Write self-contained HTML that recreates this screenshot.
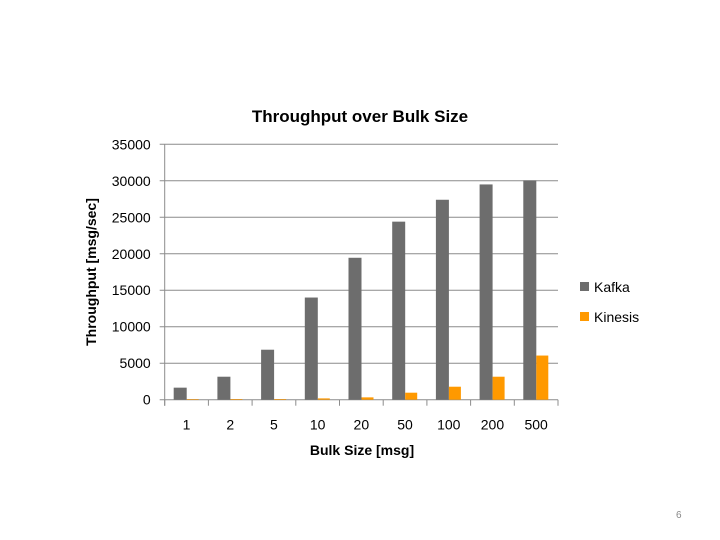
<!DOCTYPE html>
<html><head><meta charset="utf-8"><style>
body{margin:0;background:#fff;}
svg{display:block;font-family:"Liberation Sans",sans-serif;}
</style></head><body>
<svg id="c" width="720" height="540">
<text x="360" y="122" text-anchor="middle" font-size="17" font-weight="bold" fill="#000">Throughput over Bulk Size</text>
<text x="362" y="455" text-anchor="middle" font-size="14" font-weight="bold">Bulk Size [msg]</text>
<text transform="translate(96,272) rotate(-90)" text-anchor="middle" font-size="14" font-weight="bold">Throughput [msg/sec]</text>
<g id="grid"></g><g id="bars"></g><g id="ticks"></g>
<g>
<rect x="580" y="282" width="9" height="9" fill="#6d6d6d"/>
<text x="594" y="292" font-size="14">Kafka</text>
<rect x="580" y="312" width="9" height="9" fill="#ff9900"/>
<text x="594" y="322" font-size="14">Kinesis</text>
</g>
<text x="676" y="518" font-size="10" fill="#888">6</text>
</svg>
<script>
const categories=["1","2","5","10","20","50","100","200","500"];
const kafka=[1650,3150,6850,14000,19450,24400,27400,29500,30050];
const kinesis=[80,90,90,180,320,960,1780,3150,6050];
const yTicks=[0,5000,10000,15000,20000,25000,30000,35000];
const NS="http://www.w3.org/2000/svg";
const x0=164.7,x1=558,y0=399.7,y1=144.3,yMax=35000;
const bw=(x1-x0)/categories.length;
const y=v=>y0-(v/yMax)*(y0-y1);
function mk(t,a,p){const e=document.createElementNS(NS,t);for(const k in a)e.setAttribute(k,a[k]);document.getElementById(p).appendChild(e);return e;}
yTicks.forEach(v=>{
 const l=mk('line',{x1:x0-5,x2:x1,y1:y(v),y2:y(v),stroke:'#8c8c8c','stroke-width':1},'grid');
 
 
 const t=mk('text',{x:x0-14,y:y(v)+5,'text-anchor':'end','font-size':14},'ticks');t.textContent=v;
 
 
});
const ax=mk('line',{x1:x0,x2:x0,y1:y1,y2:y0+6,stroke:'#8c8c8c'},'grid');


for(let i=0;i<=categories.length;i++){const tl=mk('line',{x1:x0+i*bw,x2:x0+i*bw,y1:y0,y2:y0+6,stroke:'#8c8c8c'},'grid');
 
 }
categories.forEach((c,i)=>{
 const cx=x0+i*bw;
 const k=mk('rect',{x:cx+9,y:y(kafka[i]),width:13,height:y0-y(kafka[i]),fill:'#6d6d6d'},'bars');
 
 
 const n=mk('rect',{x:cx+22,y:y(kinesis[i]),width:12,height:y0-y(kinesis[i]),fill:'#ff9900'},'bars');
 
 
 const t=mk('text',{x:cx+bw/2,y:y0+30,'text-anchor':'middle','font-size':14},'ticks');t.textContent=c;
 
 
});
</script>
</body></html>
